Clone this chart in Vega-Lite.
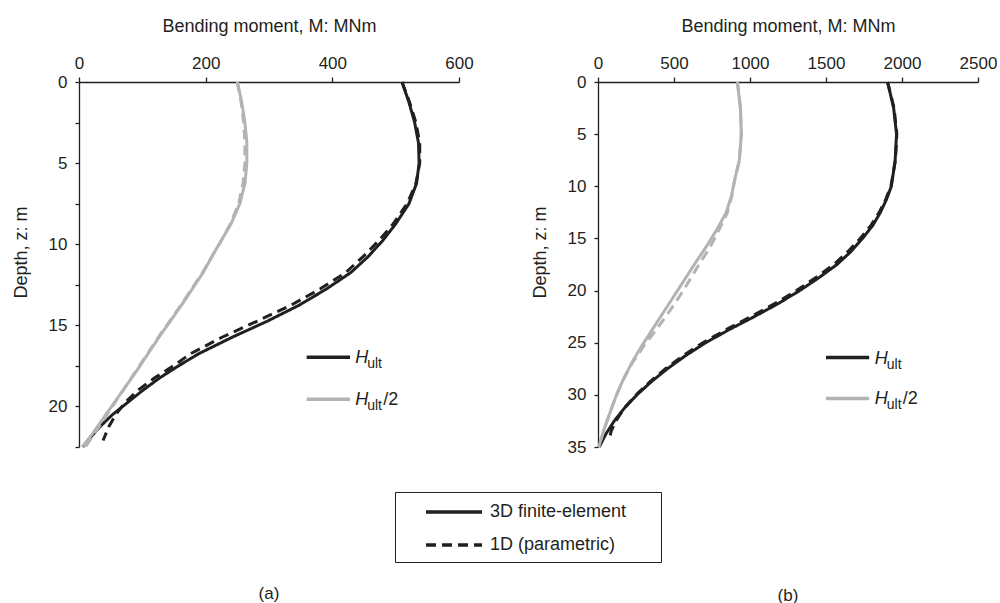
{
  "$schema": "https://vega.github.io/schema/vega-lite/v6.json",
  "background": "white",
  "padding": {"left": 12, "top": 17, "right": 0, "bottom": 0},
  "config": {
    "font": "Liberation Sans",
    "view": {"stroke": null},
    "axis": {"grid": false, "domainColor": "#231f20", "tickColor": "#231f20", "labelColor": "#231f20", "titleColor": "#231f20", "labelFontSize": 17, "titleFontSize": 18, "titleFontWeight": "normal", "domainWidth": 1.3, "tickWidth": 1.3, "labelFont": "Liberation Sans", "titleFont": "Liberation Sans", "labelFlush": false},
    "title": {"fontSize": 17, "fontWeight": "normal", "color": "#231f20", "font": "Liberation Sans"},
    "text": {"font": "Liberation Sans", "color": "#231f20"}
  },
  "datasets": {
    "curves": [
      {"panel":"a","load":"Hult","method":"3D finite-element","z":0,"M":510},
      {"panel":"a","load":"Hult","method":"3D finite-element","z":1.25,"M":521},
      {"panel":"a","load":"Hult","method":"3D finite-element","z":2.5,"M":530},
      {"panel":"a","load":"Hult","method":"3D finite-element","z":3.75,"M":536},
      {"panel":"a","load":"Hult","method":"3D finite-element","z":5,"M":537},
      {"panel":"a","load":"Hult","method":"3D finite-element","z":6.25,"M":533},
      {"panel":"a","load":"Hult","method":"3D finite-element","z":7.5,"M":521},
      {"panel":"a","load":"Hult","method":"3D finite-element","z":8.75,"M":500},
      {"panel":"a","load":"Hult","method":"3D finite-element","z":9.75,"M":480},
      {"panel":"a","load":"Hult","method":"3D finite-element","z":10.75,"M":457},
      {"panel":"a","load":"Hult","method":"3D finite-element","z":11.75,"M":429},
      {"panel":"a","load":"Hult","method":"3D finite-element","z":12.75,"M":391},
      {"panel":"a","load":"Hult","method":"3D finite-element","z":13.75,"M":348},
      {"panel":"a","load":"Hult","method":"3D finite-element","z":14.75,"M":297},
      {"panel":"a","load":"Hult","method":"3D finite-element","z":15.75,"M":241},
      {"panel":"a","load":"Hult","method":"3D finite-element","z":16.75,"M":189},
      {"panel":"a","load":"Hult","method":"3D finite-element","z":17.5,"M":157},
      {"panel":"a","load":"Hult","method":"3D finite-element","z":18.25,"M":127},
      {"panel":"a","load":"Hult","method":"3D finite-element","z":19,"M":101},
      {"panel":"a","load":"Hult","method":"3D finite-element","z":19.75,"M":77},
      {"panel":"a","load":"Hult","method":"3D finite-element","z":20.5,"M":53},
      {"panel":"a","load":"Hult","method":"3D finite-element","z":21.25,"M":33},
      {"panel":"a","load":"Hult","method":"3D finite-element","z":22,"M":16},
      {"panel":"a","load":"Hult","method":"3D finite-element","z":22.5,"M":6},
      {"panel":"a","load":"Hult","method":"1D (parametric)","z":0,"M":510},
      {"panel":"a","load":"Hult","method":"1D (parametric)","z":1.25,"M":522},
      {"panel":"a","load":"Hult","method":"1D (parametric)","z":2.5,"M":532},
      {"panel":"a","load":"Hult","method":"1D (parametric)","z":3.75,"M":538},
      {"panel":"a","load":"Hult","method":"1D (parametric)","z":5,"M":538},
      {"panel":"a","load":"Hult","method":"1D (parametric)","z":6.25,"M":532},
      {"panel":"a","load":"Hult","method":"1D (parametric)","z":7.5,"M":518},
      {"panel":"a","load":"Hult","method":"1D (parametric)","z":8.75,"M":496},
      {"panel":"a","load":"Hult","method":"1D (parametric)","z":9.75,"M":474},
      {"panel":"a","load":"Hult","method":"1D (parametric)","z":10.75,"M":449},
      {"panel":"a","load":"Hult","method":"1D (parametric)","z":11.75,"M":421},
      {"panel":"a","load":"Hult","method":"1D (parametric)","z":12.75,"M":381},
      {"panel":"a","load":"Hult","method":"1D (parametric)","z":13.75,"M":335},
      {"panel":"a","load":"Hult","method":"1D (parametric)","z":14.75,"M":281},
      {"panel":"a","load":"Hult","method":"1D (parametric)","z":15.75,"M":225},
      {"panel":"a","load":"Hult","method":"1D (parametric)","z":16.75,"M":176},
      {"panel":"a","load":"Hult","method":"1D (parametric)","z":17.5,"M":149},
      {"panel":"a","load":"Hult","method":"1D (parametric)","z":18.25,"M":119},
      {"panel":"a","load":"Hult","method":"1D (parametric)","z":19,"M":93},
      {"panel":"a","load":"Hult","method":"1D (parametric)","z":19.75,"M":73},
      {"panel":"a","load":"Hult","method":"1D (parametric)","z":20.5,"M":58},
      {"panel":"a","load":"Hult","method":"1D (parametric)","z":21.25,"M":47},
      {"panel":"a","load":"Hult","method":"1D (parametric)","z":22.1,"M":38},
      {"panel":"a","load":"Hult/2","method":"3D finite-element","z":0,"M":250},
      {"panel":"a","load":"Hult/2","method":"3D finite-element","z":1.25,"M":257},
      {"panel":"a","load":"Hult/2","method":"3D finite-element","z":2.5,"M":262},
      {"panel":"a","load":"Hult/2","method":"3D finite-element","z":3.75,"M":265},
      {"panel":"a","load":"Hult/2","method":"3D finite-element","z":5,"M":265},
      {"panel":"a","load":"Hult/2","method":"3D finite-element","z":6.25,"M":262},
      {"panel":"a","load":"Hult/2","method":"3D finite-element","z":7.5,"M":254},
      {"panel":"a","load":"Hult/2","method":"3D finite-element","z":8.75,"M":240},
      {"panel":"a","load":"Hult/2","method":"3D finite-element","z":9.75,"M":225},
      {"panel":"a","load":"Hult/2","method":"3D finite-element","z":10.75,"M":210},
      {"panel":"a","load":"Hult/2","method":"3D finite-element","z":11.75,"M":196},
      {"panel":"a","load":"Hult/2","method":"3D finite-element","z":12.75,"M":179},
      {"panel":"a","load":"Hult/2","method":"3D finite-element","z":13.75,"M":162},
      {"panel":"a","load":"Hult/2","method":"3D finite-element","z":14.75,"M":144},
      {"panel":"a","load":"Hult/2","method":"3D finite-element","z":15.75,"M":126},
      {"panel":"a","load":"Hult/2","method":"3D finite-element","z":16.75,"M":109},
      {"panel":"a","load":"Hult/2","method":"3D finite-element","z":17.75,"M":92},
      {"panel":"a","load":"Hult/2","method":"3D finite-element","z":18.75,"M":74},
      {"panel":"a","load":"Hult/2","method":"3D finite-element","z":19.75,"M":56},
      {"panel":"a","load":"Hult/2","method":"3D finite-element","z":20.75,"M":38},
      {"panel":"a","load":"Hult/2","method":"3D finite-element","z":21.75,"M":20},
      {"panel":"a","load":"Hult/2","method":"3D finite-element","z":22.5,"M":5},
      {"panel":"a","load":"Hult/2","method":"1D (parametric)","z":0,"M":250},
      {"panel":"a","load":"Hult/2","method":"1D (parametric)","z":1.25,"M":256},
      {"panel":"a","load":"Hult/2","method":"1D (parametric)","z":2.5,"M":260},
      {"panel":"a","load":"Hult/2","method":"1D (parametric)","z":3.75,"M":262},
      {"panel":"a","load":"Hult/2","method":"1D (parametric)","z":5,"M":262},
      {"panel":"a","load":"Hult/2","method":"1D (parametric)","z":6.25,"M":259},
      {"panel":"a","load":"Hult/2","method":"1D (parametric)","z":7.5,"M":252},
      {"panel":"a","load":"Hult/2","method":"1D (parametric)","z":8.75,"M":239},
      {"panel":"a","load":"Hult/2","method":"1D (parametric)","z":9.75,"M":225},
      {"panel":"a","load":"Hult/2","method":"1D (parametric)","z":10.75,"M":210},
      {"panel":"a","load":"Hult/2","method":"1D (parametric)","z":11.75,"M":195},
      {"panel":"a","load":"Hult/2","method":"1D (parametric)","z":12.75,"M":178},
      {"panel":"a","load":"Hult/2","method":"1D (parametric)","z":13.75,"M":161},
      {"panel":"a","load":"Hult/2","method":"1D (parametric)","z":14.75,"M":143},
      {"panel":"a","load":"Hult/2","method":"1D (parametric)","z":15.75,"M":125},
      {"panel":"a","load":"Hult/2","method":"1D (parametric)","z":16.75,"M":108},
      {"panel":"a","load":"Hult/2","method":"1D (parametric)","z":17.75,"M":91},
      {"panel":"a","load":"Hult/2","method":"1D (parametric)","z":18.75,"M":74},
      {"panel":"a","load":"Hult/2","method":"1D (parametric)","z":19.75,"M":57},
      {"panel":"a","load":"Hult/2","method":"1D (parametric)","z":20.75,"M":40},
      {"panel":"a","load":"Hult/2","method":"1D (parametric)","z":21.75,"M":23},
      {"panel":"a","load":"Hult/2","method":"1D (parametric)","z":22.5,"M":10},
      {"panel":"b","load":"Hult","method":"3D finite-element","z":0,"M":1905},
      {"panel":"b","load":"Hult","method":"3D finite-element","z":2.5,"M":1945},
      {"panel":"b","load":"Hult","method":"3D finite-element","z":5,"M":1964},
      {"panel":"b","load":"Hult","method":"3D finite-element","z":7.5,"M":1955},
      {"panel":"b","load":"Hult","method":"3D finite-element","z":10,"M":1930},
      {"panel":"b","load":"Hult","method":"3D finite-element","z":11.25,"M":1898},
      {"panel":"b","load":"Hult","method":"3D finite-element","z":12.5,"M":1858},
      {"panel":"b","load":"Hult","method":"3D finite-element","z":13.75,"M":1808},
      {"panel":"b","load":"Hult","method":"3D finite-element","z":15,"M":1740},
      {"panel":"b","load":"Hult","method":"3D finite-element","z":16.25,"M":1665},
      {"panel":"b","load":"Hult","method":"3D finite-element","z":17.5,"M":1572},
      {"panel":"b","load":"Hult","method":"3D finite-element","z":18.75,"M":1455},
      {"panel":"b","load":"Hult","method":"3D finite-element","z":20,"M":1327},
      {"panel":"b","load":"Hult","method":"3D finite-element","z":21.25,"M":1185},
      {"panel":"b","load":"Hult","method":"3D finite-element","z":22.5,"M":1028},
      {"panel":"b","load":"Hult","method":"3D finite-element","z":23.75,"M":862},
      {"panel":"b","load":"Hult","method":"3D finite-element","z":25,"M":708},
      {"panel":"b","load":"Hult","method":"3D finite-element","z":26.25,"M":575},
      {"panel":"b","load":"Hult","method":"3D finite-element","z":27.5,"M":456},
      {"panel":"b","load":"Hult","method":"3D finite-element","z":28.75,"M":350},
      {"panel":"b","load":"Hult","method":"3D finite-element","z":30,"M":256},
      {"panel":"b","load":"Hult","method":"3D finite-element","z":31.25,"M":175},
      {"panel":"b","load":"Hult","method":"3D finite-element","z":32.5,"M":107},
      {"panel":"b","load":"Hult","method":"3D finite-element","z":33.75,"M":52},
      {"panel":"b","load":"Hult","method":"3D finite-element","z":35,"M":8},
      {"panel":"b","load":"Hult","method":"1D (parametric)","z":0,"M":1905},
      {"panel":"b","load":"Hult","method":"1D (parametric)","z":2.5,"M":1948},
      {"panel":"b","load":"Hult","method":"1D (parametric)","z":5,"M":1966},
      {"panel":"b","load":"Hult","method":"1D (parametric)","z":7.5,"M":1957},
      {"panel":"b","load":"Hult","method":"1D (parametric)","z":10,"M":1927},
      {"panel":"b","load":"Hult","method":"1D (parametric)","z":11.25,"M":1893},
      {"panel":"b","load":"Hult","method":"1D (parametric)","z":12.5,"M":1850},
      {"panel":"b","load":"Hult","method":"1D (parametric)","z":13.75,"M":1796},
      {"panel":"b","load":"Hult","method":"1D (parametric)","z":15,"M":1725},
      {"panel":"b","load":"Hult","method":"1D (parametric)","z":16.25,"M":1645},
      {"panel":"b","load":"Hult","method":"1D (parametric)","z":17.5,"M":1551},
      {"panel":"b","load":"Hult","method":"1D (parametric)","z":18.75,"M":1434},
      {"panel":"b","load":"Hult","method":"1D (parametric)","z":20,"M":1305},
      {"panel":"b","load":"Hult","method":"1D (parametric)","z":21.25,"M":1163},
      {"panel":"b","load":"Hult","method":"1D (parametric)","z":22.5,"M":1006},
      {"panel":"b","load":"Hult","method":"1D (parametric)","z":23.75,"M":843},
      {"panel":"b","load":"Hult","method":"1D (parametric)","z":25,"M":690},
      {"panel":"b","load":"Hult","method":"1D (parametric)","z":26.25,"M":560},
      {"panel":"b","load":"Hult","method":"1D (parametric)","z":27.5,"M":444},
      {"panel":"b","load":"Hult","method":"1D (parametric)","z":28.75,"M":341},
      {"panel":"b","load":"Hult","method":"1D (parametric)","z":30,"M":251},
      {"panel":"b","load":"Hult","method":"1D (parametric)","z":31.25,"M":174},
      {"panel":"b","load":"Hult","method":"1D (parametric)","z":32.5,"M":118},
      {"panel":"b","load":"Hult","method":"1D (parametric)","z":33.5,"M":86},
      {"panel":"b","load":"Hult","method":"1D (parametric)","z":34.3,"M":75},
      {"panel":"b","load":"Hult/2","method":"3D finite-element","z":0,"M":917},
      {"panel":"b","load":"Hult/2","method":"3D finite-element","z":2.5,"M":937},
      {"panel":"b","load":"Hult/2","method":"3D finite-element","z":5,"M":943},
      {"panel":"b","load":"Hult/2","method":"3D finite-element","z":7.5,"M":930},
      {"panel":"b","load":"Hult/2","method":"3D finite-element","z":9.37,"M":899},
      {"panel":"b","load":"Hult/2","method":"3D finite-element","z":10.97,"M":877},
      {"panel":"b","load":"Hult/2","method":"3D finite-element","z":12.56,"M":842},
      {"panel":"b","load":"Hult/2","method":"3D finite-element","z":14.15,"M":782},
      {"panel":"b","load":"Hult/2","method":"3D finite-element","z":15.75,"M":714},
      {"panel":"b","load":"Hult/2","method":"3D finite-element","z":17.34,"M":641},
      {"panel":"b","load":"Hult/2","method":"3D finite-element","z":18.9,"M":572},
      {"panel":"b","load":"Hult/2","method":"3D finite-element","z":20.5,"M":501},
      {"panel":"b","load":"Hult/2","method":"3D finite-element","z":22.1,"M":430},
      {"panel":"b","load":"Hult/2","method":"3D finite-element","z":23.7,"M":359},
      {"panel":"b","load":"Hult/2","method":"3D finite-element","z":25.3,"M":288},
      {"panel":"b","load":"Hult/2","method":"3D finite-element","z":26.9,"M":223},
      {"panel":"b","load":"Hult/2","method":"3D finite-element","z":28.5,"M":167},
      {"panel":"b","load":"Hult/2","method":"3D finite-element","z":30.1,"M":119},
      {"panel":"b","load":"Hult/2","method":"3D finite-element","z":31.7,"M":79},
      {"panel":"b","load":"Hult/2","method":"3D finite-element","z":33.3,"M":40},
      {"panel":"b","load":"Hult/2","method":"3D finite-element","z":35,"M":5},
      {"panel":"b","load":"Hult/2","method":"1D (parametric)","z":0,"M":917},
      {"panel":"b","load":"Hult/2","method":"1D (parametric)","z":2.5,"M":937},
      {"panel":"b","load":"Hult/2","method":"1D (parametric)","z":5,"M":943},
      {"panel":"b","load":"Hult/2","method":"1D (parametric)","z":7.5,"M":930},
      {"panel":"b","load":"Hult/2","method":"1D (parametric)","z":9.37,"M":900},
      {"panel":"b","load":"Hult/2","method":"1D (parametric)","z":10.97,"M":880},
      {"panel":"b","load":"Hult/2","method":"1D (parametric)","z":12.56,"M":850},
      {"panel":"b","load":"Hult/2","method":"1D (parametric)","z":14.15,"M":797},
      {"panel":"b","load":"Hult/2","method":"1D (parametric)","z":15.75,"M":740},
      {"panel":"b","load":"Hult/2","method":"1D (parametric)","z":17.34,"M":672},
      {"panel":"b","load":"Hult/2","method":"1D (parametric)","z":18.9,"M":607},
      {"panel":"b","load":"Hult/2","method":"1D (parametric)","z":20.5,"M":539},
      {"panel":"b","load":"Hult/2","method":"1D (parametric)","z":22.1,"M":465},
      {"panel":"b","load":"Hult/2","method":"1D (parametric)","z":23.7,"M":386},
      {"panel":"b","load":"Hult/2","method":"1D (parametric)","z":25.3,"M":302},
      {"panel":"b","load":"Hult/2","method":"1D (parametric)","z":26.9,"M":227},
      {"panel":"b","load":"Hult/2","method":"1D (parametric)","z":28.5,"M":168},
      {"panel":"b","load":"Hult/2","method":"1D (parametric)","z":30.1,"M":119},
      {"panel":"b","load":"Hult/2","method":"1D (parametric)","z":31.7,"M":79},
      {"panel":"b","load":"Hult/2","method":"1D (parametric)","z":33.3,"M":40},
      {"panel":"b","load":"Hult/2","method":"1D (parametric)","z":35,"M":5}
    ]
  },
  "spacing": 139,
  "bounds": "flush",
  "resolve": {"scale": {"color": "shared", "strokeDash": "shared"}, "legend": {"strokeDash": "shared"}},
  "hconcat": [
    {
      "width": 380,
      "height": 365,
      "title": {"text": "(a)", "orient": "bottom", "frame": "group", "anchor": "middle", "offset": 133},
      "layer": [
        {
          "data": {"name": "curves"},
          "transform": [{"filter": "datum.panel === 'a'"}],
          "mark": {"type": "line", "strokeWidth": 3},
          "encoding": {
            "x": {"field": "M", "type": "quantitative", "scale": {"domain": [0, 600], "nice": false}, "axis": {"orient": "top", "values": [0, 200, 400, 600], "format": "d", "title": "Bending moment, M: MNm", "tickSize": 5, "labelPadding": 5, "titleY": -47}},
            "y": {"field": "z", "type": "quantitative", "scale": {"domain": [0, 22.5], "nice": false, "reverse": true}, "axis": {"values": [0, 2.5, 5, 7.5, 10, 12.5, 15, 17.5, 20, 22.5], "labelExpr": "datum.value % 5 === 0 ? datum.label : ''", "title": "Depth, z: m", "tickSize": 4, "labelPadding": 8, "titleX": -49, "titleY": 170}},
            "color": {"field": "load", "type": "nominal", "scale": {"domain": ["Hult", "Hult/2"], "range": ["#231f20", "#b3b3b3"]}, "legend": null},
            "strokeDash": {"field": "method", "type": "nominal", "scale": {"domain": ["3D finite-element", "1D (parametric)"], "range": [[1, 0], [10, 6]]},
              "legend": {"orient": "none", "legendX": 316, "legendY": 410, "title": "\u00a0", "titleOrient": "right", "titlePadding": 27, "titleFontSize": 10, "symbolType": "M-2.8,0H2.8", "symbolSize": 400, "symbolStrokeWidth": 3.5, "symbolStrokeColor": "#231f20", "labelFontSize": 18, "labelColor": "#231f20", "labelFont": "Liberation Sans", "strokeColor": "#231f20", "fillColor": "white", "padding": 8, "symbolOffset": 39, "rowPadding": 12, "labelOffset": 24}},
            "order": {"field": "z", "type": "quantitative"}
          }
        },
        {
          "data": {"values": [{"load": "Hult"}]},
          "mark": {"type": "rule", "strokeWidth": 3.5},
          "encoding": {"x": {"datum": 359.5}, "x2": {"datum": 428}, "y": {"datum": 16.97}, "color": {"field": "load", "type": "nominal", "legend": null}}
        },
        {
          "data": {"values": [{"load": "Hult/2"}]},
          "mark": {"type": "rule", "strokeWidth": 3.5},
          "encoding": {"x": {"datum": 359.5}, "x2": {"datum": 428}, "y": {"datum": 19.56}, "color": {"field": "load", "type": "nominal", "legend": null}}
        },
        {
          "data": {"values": [{"load": "Hult"}]},
          "mark": {"type": "text", "align": "left", "baseline": "alphabetic", "fontSize": 18, "fontStyle": "italic", "dy": 6},
          "encoding": {"x": {"datum": 436}, "y": {"datum": 16.97}, "text": {"value": "H"}}
        },
        {
          "data": {"values": [{"load": "Hult"}]},
          "mark": {"type": "text", "align": "left", "baseline": "alphabetic", "fontSize": 14, "dx": 12, "dy": 11},
          "encoding": {"x": {"datum": 436}, "y": {"datum": 16.97}, "text": {"value": "ult"}}
        },
        {
          "data": {"values": [{"load": "Hult/2"}]},
          "mark": {"type": "text", "align": "left", "baseline": "alphabetic", "fontSize": 18, "fontStyle": "italic", "dy": 6},
          "encoding": {"x": {"datum": 436}, "y": {"datum": 19.56}, "text": {"value": "H"}}
        },
        {
          "data": {"values": [{"load": "Hult/2"}]},
          "mark": {"type": "text", "align": "left", "baseline": "alphabetic", "fontSize": 14, "dx": 12, "dy": 11},
          "encoding": {"x": {"datum": 436}, "y": {"datum": 19.56}, "text": {"value": "ult"}}
        },
        {
          "data": {"values": [{"load": "Hult/2"}]},
          "mark": {"type": "text", "align": "left", "baseline": "alphabetic", "fontSize": 18, "dx": 28, "dy": 6},
          "encoding": {"x": {"datum": 436}, "y": {"datum": 19.56}, "text": {"value": "/2"}}
        }
      ]
    },
    {
      "width": 380,
      "height": 365,
      "title": {"text": "(b)", "orient": "bottom", "frame": "group", "anchor": "middle", "offset": 133},
      "layer": [
        {
          "data": {"name": "curves"},
          "transform": [{"filter": "datum.panel === 'b'"}],
          "mark": {"type": "line", "strokeWidth": 3},
          "encoding": {
            "x": {"field": "M", "type": "quantitative", "scale": {"domain": [0, 2500], "nice": false}, "axis": {"orient": "top", "values": [0, 500, 1000, 1500, 2000, 2500], "format": "d", "title": "Bending moment, M: MNm", "tickSize": 5, "labelPadding": 5, "titleY": -47}},
            "y": {"field": "z", "type": "quantitative", "scale": {"domain": [0, 35], "nice": false, "reverse": true}, "axis": {"values": [0, 5, 10, 15, 20, 25, 30, 35], "title": "Depth, z: m", "tickSize": 4, "labelPadding": 8, "titleX": -49, "titleY": 170}},
            "color": {"field": "load", "type": "nominal", "scale": {"domain": ["Hult", "Hult/2"], "range": ["#231f20", "#b3b3b3"]}, "legend": null},
            "strokeDash": {"field": "method", "type": "nominal", "scale": {"domain": ["3D finite-element", "1D (parametric)"], "range": [[1, 0], [10, 6]]},
              "legend": {"orient": "none", "legendX": 316, "legendY": 410, "title": "\u00a0", "titleOrient": "right", "titlePadding": 27, "titleFontSize": 10, "symbolType": "M-2.8,0H2.8", "symbolSize": 400, "symbolStrokeWidth": 3.5, "symbolStrokeColor": "#231f20", "labelFontSize": 18, "labelColor": "#231f20", "labelFont": "Liberation Sans", "strokeColor": "#231f20", "fillColor": "white", "padding": 8, "symbolOffset": 39, "rowPadding": 12, "labelOffset": 24}},
            "order": {"field": "z", "type": "quantitative"}
          }
        },
        {
          "data": {"values": [{"load": "Hult"}]},
          "mark": {"type": "rule", "strokeWidth": 3.5},
          "encoding": {"x": {"datum": 1500}, "x2": {"datum": 1784}, "y": {"datum": 26.42}, "color": {"field": "load", "type": "nominal", "legend": null}}
        },
        {
          "data": {"values": [{"load": "Hult/2"}]},
          "mark": {"type": "rule", "strokeWidth": 3.5},
          "encoding": {"x": {"datum": 1500}, "x2": {"datum": 1784}, "y": {"datum": 30.34}, "color": {"field": "load", "type": "nominal", "legend": null}}
        },
        {
          "data": {"values": [{"load": "Hult"}]},
          "mark": {"type": "text", "align": "left", "baseline": "alphabetic", "fontSize": 18, "fontStyle": "italic", "dy": 6},
          "encoding": {"x": {"datum": 1821}, "y": {"datum": 26.42}, "text": {"value": "H"}}
        },
        {
          "data": {"values": [{"load": "Hult"}]},
          "mark": {"type": "text", "align": "left", "baseline": "alphabetic", "fontSize": 14, "dx": 12, "dy": 11},
          "encoding": {"x": {"datum": 1821}, "y": {"datum": 26.42}, "text": {"value": "ult"}}
        },
        {
          "data": {"values": [{"load": "Hult/2"}]},
          "mark": {"type": "text", "align": "left", "baseline": "alphabetic", "fontSize": 18, "fontStyle": "italic", "dy": 6},
          "encoding": {"x": {"datum": 1821}, "y": {"datum": 30.34}, "text": {"value": "H"}}
        },
        {
          "data": {"values": [{"load": "Hult/2"}]},
          "mark": {"type": "text", "align": "left", "baseline": "alphabetic", "fontSize": 14, "dx": 12, "dy": 11},
          "encoding": {"x": {"datum": 1821}, "y": {"datum": 30.34}, "text": {"value": "ult"}}
        },
        {
          "data": {"values": [{"load": "Hult/2"}]},
          "mark": {"type": "text", "align": "left", "baseline": "alphabetic", "fontSize": 18, "dx": 28, "dy": 6},
          "encoding": {"x": {"datum": 1821}, "y": {"datum": 30.34}, "text": {"value": "/2"}}
        }
      ]
    }
  ]
}
